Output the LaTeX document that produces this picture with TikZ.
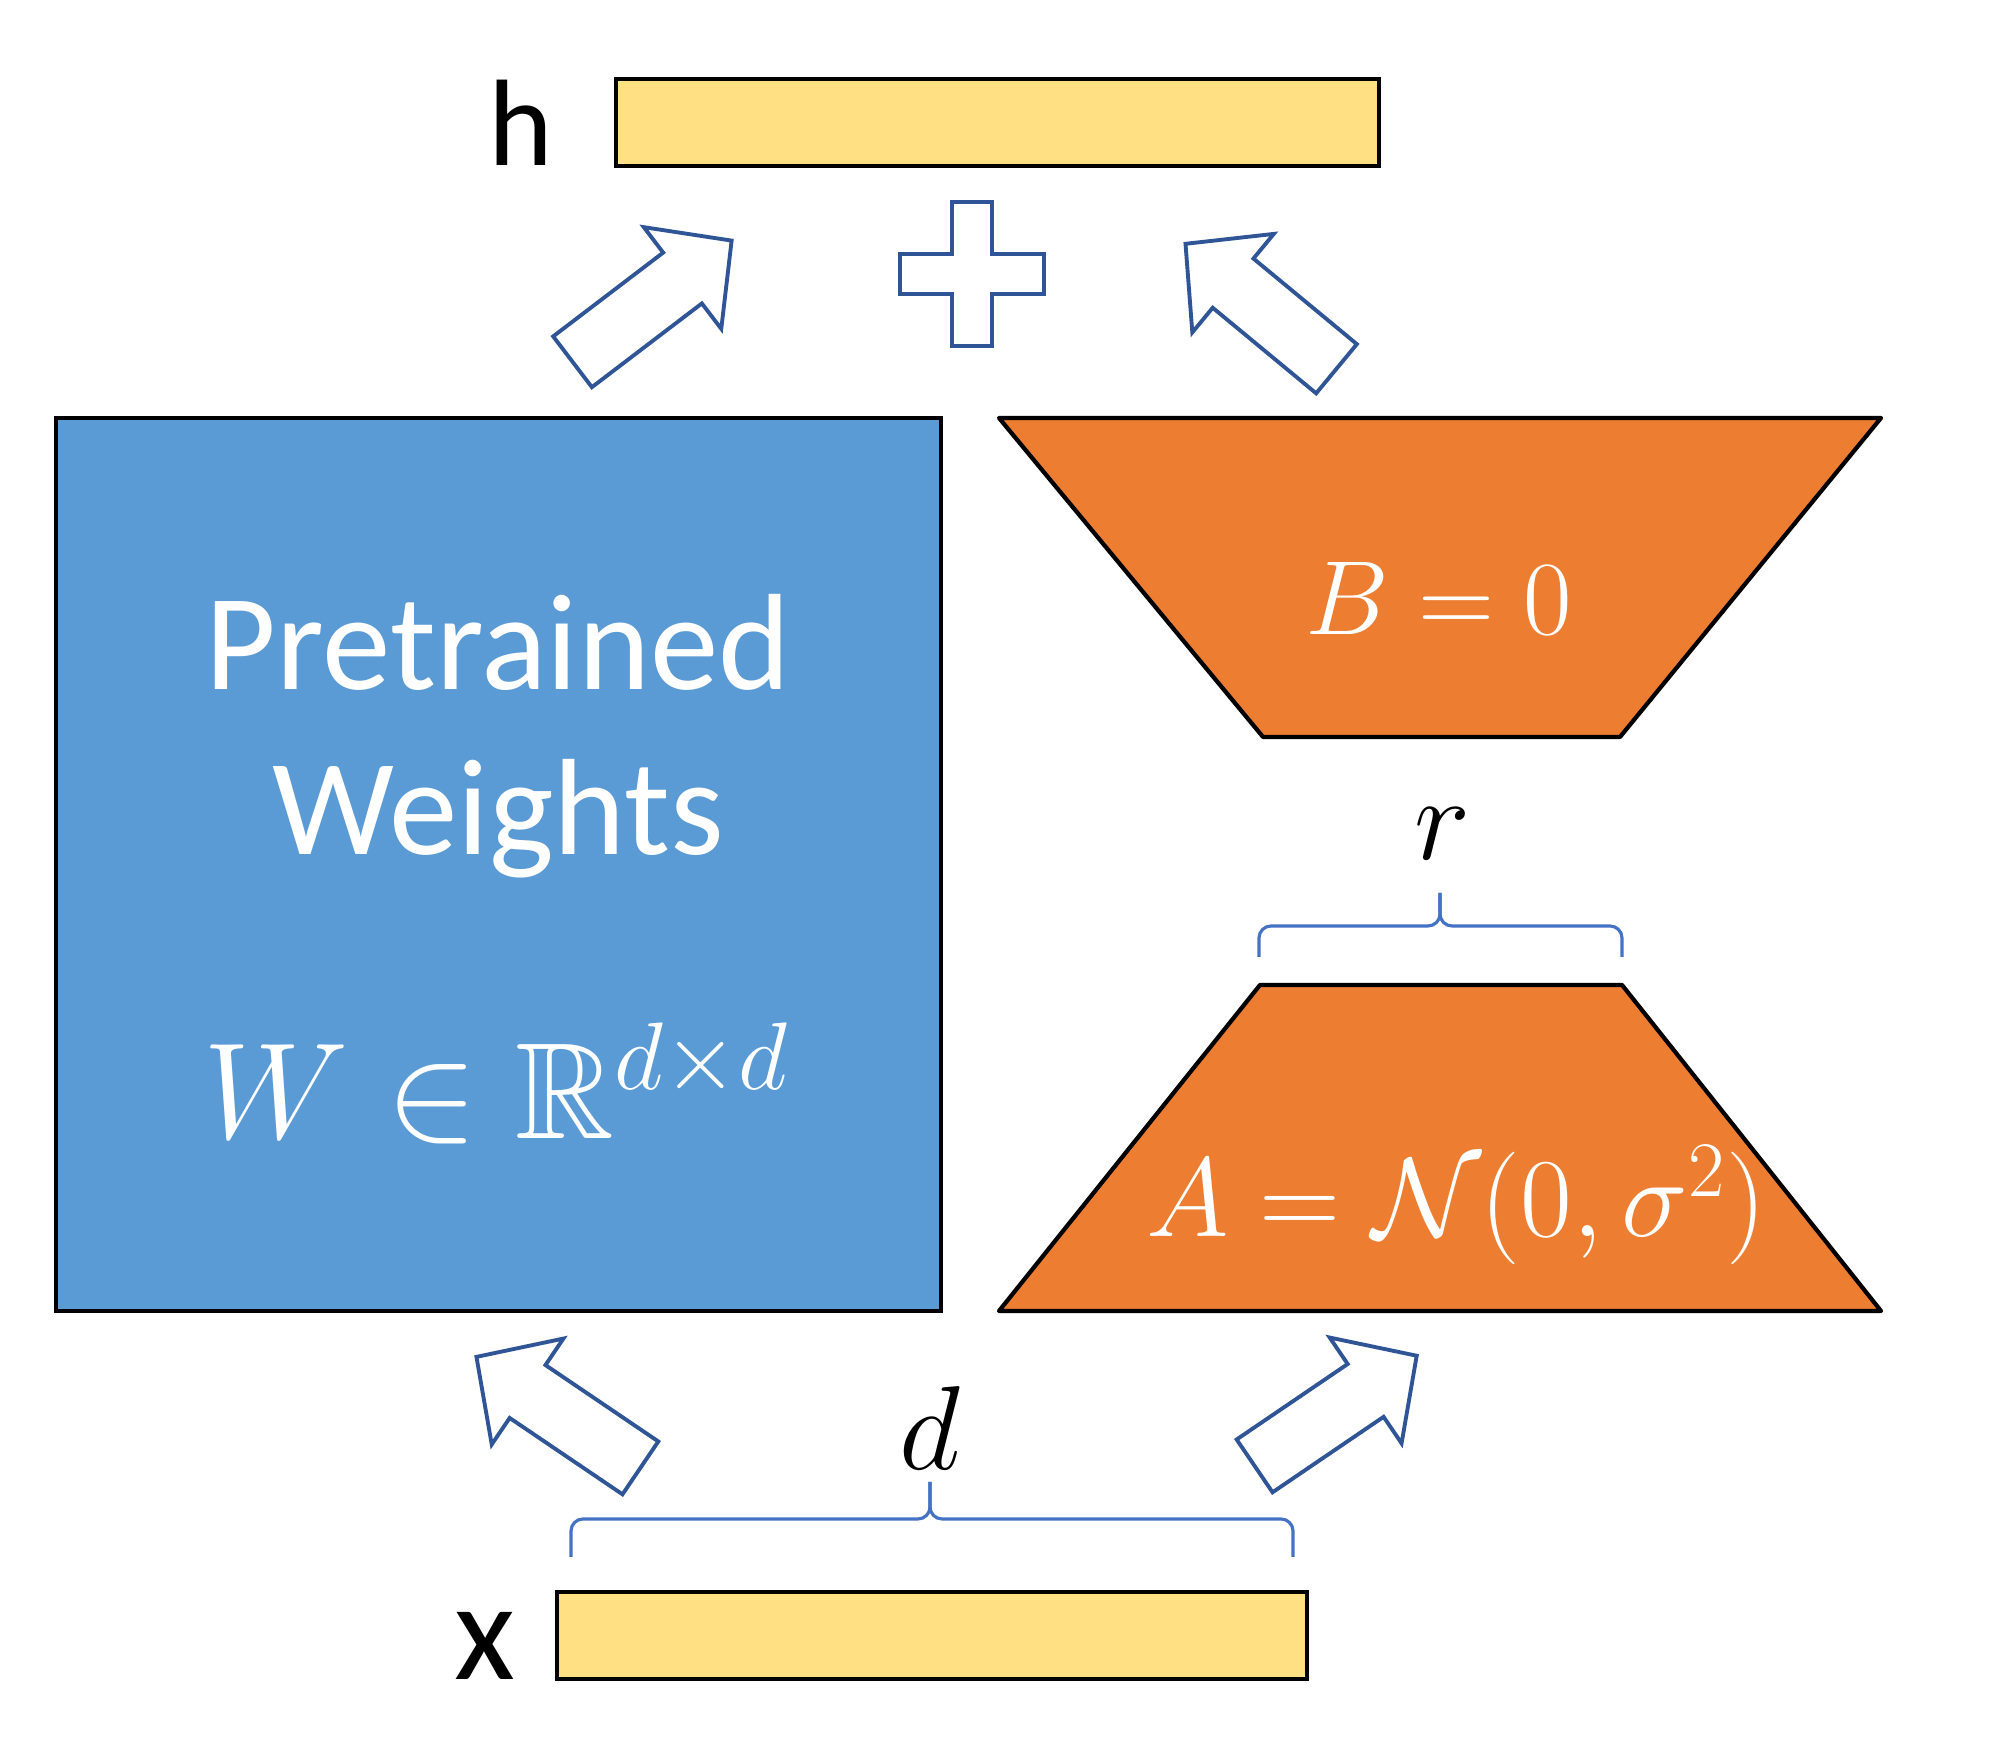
\RequirePackage{fix-cm}
\documentclass[tikz,border=0pt]{standalone}
\usepackage{amsmath,amssymb}
\usepackage[no-math]{fontspec}
\setmainfont{Carlito}
\usepackage{xcolor}
\usepackage{tikz}
\usetikzlibrary{shapes.arrows,calc}

\definecolor{wblue}{HTML}{5B9BD5}
\definecolor{lorange}{HTML}{ED7D31}
\definecolor{vecyellow}{HTML}{FFE083}
\definecolor{arrowblue}{HTML}{2F5597}
\definecolor{braceblue}{HTML}{4472C4}

\begin{document}
\begin{tikzpicture}[
  wbox/.style={draw=black,line width=1.2pt},
  vec/.style={wbox,fill=vecyellow,minimum height=0.87cm},
  lora/.style={wbox,fill=lorange,line join=round},
  flow/.style={single arrow,draw=arrowblue,fill=white,line width=1.1pt,
    inner xsep=0pt,inner ysep=0.3cm,single arrow head extend=0.32cm,
    single arrow tip angle=92,anchor=tail},
  dimbrace/.style={braceblue,line width=0.9pt,rounded corners=0.12cm},
  wtext/.style={white,anchor=base,font=\fontsize{39}{47}\selectfont}]
  \useasboundingbox (0,0) rectangle (20,17.56);

  % input and output vectors
  \node[vec,minimum width=7.63cm] (h) at (9.975,16.335) {};
  \node[vec,minimum width=7.5cm] (x) at (9.32,1.205) {};
  \node[anchor=base,font=\fontsize{35}{42}\selectfont] (hlab) at (5.21,15.90) {h};
  \node[anchor=base,font=\fontsize{40}{48}\selectfont] (xlab) at (4.85,0.76) {x};

  % frozen weights
  \node[wbox,fill=wblue,minimum width=8.85cm,minimum height=8.93cm] (W) at (4.985,8.915) {};
  \node[wtext] (pre) at (4.98,10.66) {Pretrained};
  \node[wtext] (wts) at (4.98,9.01) {Weights};
  \node[wtext] (wdim) at (4.96,6.17) {$W \in \mathbb{R}^{d\times d}$};

  % low-rank pair
  \draw[lora] (9.99,13.38) -- (18.81,13.38) -- (16.20,10.19) -- (12.63,10.19) -- cycle;
  \draw[lora] (9.99,4.45) -- (18.81,4.45) -- (16.22,7.71) -- (12.60,7.71) -- cycle;
  \node[white,anchor=base,font=\fontsize{30}{36}\selectfont] (Beq) at (14.39,11.21) {$B = 0$};
  \node[white,anchor=base,font=\fontsize{32}{38}\selectfont] (Aeq) at (14.56,5.19) {$A = \mathcal{N}(0,\sigma^2)$};

  % dimensions
  \draw[dimbrace] (5.71,1.99) -- (5.71,2.37) -- (9.30,2.37) -- (9.30,2.74);
  \draw[dimbrace] (12.93,1.99) -- (12.93,2.37) -- (9.30,2.37) -- (9.30,2.74);
  \node[anchor=base,font=\fontsize{34}{40}\selectfont] (dlab) at (9.30,2.86) {$d$};
  \draw[dimbrace] (12.59,7.99) -- (12.59,8.30) -- (14.40,8.30) -- (14.40,8.63);
  \draw[dimbrace] (16.22,7.99) -- (16.22,8.30) -- (14.40,8.30) -- (14.40,8.63);
  \node[anchor=base,font=\fontsize{34}{40}\selectfont] (rlab) at (14.42,8.96) {$r$};

  % block arrows
  \node[flow,rotate=37.3,minimum height=2cm] (wout) at (5.71,13.93) {};
  \node[flow,rotate=140.4,minimum height=1.96cm] (bout) at (13.38,13.86) {};
  \node[flow,rotate=145.9,minimum height=1.98cm] (win) at (6.42,2.87) {};
  \node[flow,rotate=34.2,minimum height=1.96cm] (ain) at (12.53,2.89) {};

  % sum
  \coordinate (plus) at (9.72,14.82);
  \draw[arrowblue,fill=white,line width=1.1pt,shift={(plus)}]
    (-0.2,0.72) -- (0.2,0.72) -- (0.2,0.2) -- (0.72,0.2) -- (0.72,-0.2) -- (0.2,-0.2)
    -- (0.2,-0.72) -- (-0.2,-0.72) -- (-0.2,-0.2) -- (-0.72,-0.2) -- (-0.72,0.2) -- (-0.2,0.2) -- cycle;
\end{tikzpicture}
\end{document}
